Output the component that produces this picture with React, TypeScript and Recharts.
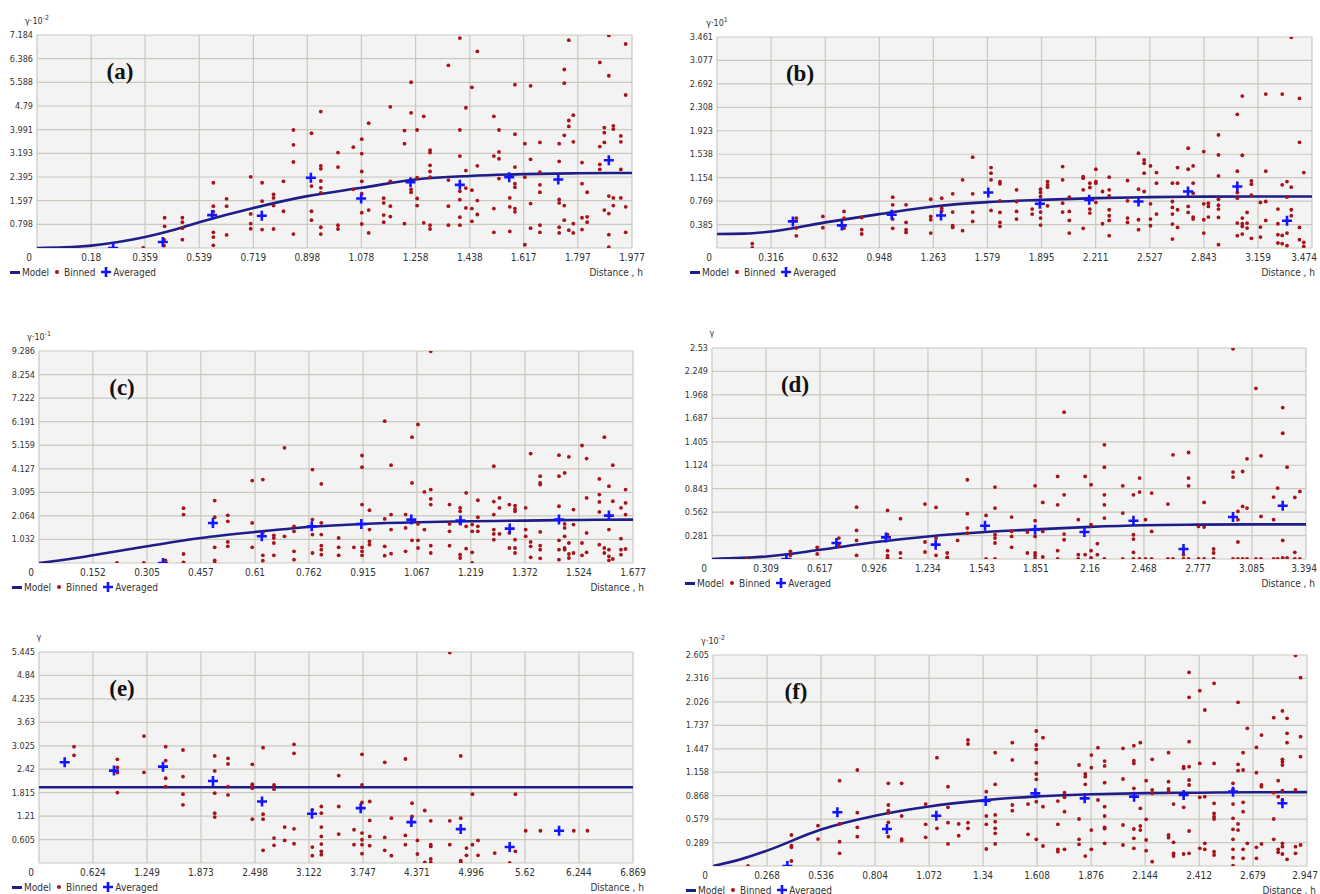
import React from "react";
import {
  ComposedChart,
  Scatter,
  Line,
  XAxis,
  YAxis,
  CartesianGrid,
} from "recharts";

// ---- (a) ----
const xTicksA = [0, 0.18, 0.359, 0.539, 0.719, 0.898, 1.078, 1.258, 1.438, 1.617, 1.797, 1.977];
const yTicksA = [0, 0.798, 1.597, 2.395, 3.193, 3.991, 4.79, 5.588, 6.386, 7.184];
const modelA = [[0, 0], [0.09, 0.02], [0.18, 0.08], [0.27, 0.2], [0.359, 0.37], [0.45, 0.6], [0.539, 0.87], [0.719, 1.35], [0.898, 1.75], [1.078, 2.03], [1.258, 2.31], [1.438, 2.43], [1.617, 2.49], [1.797, 2.52], [1.977, 2.53]];
const averagedA = [[0.253, 0], [0.418, 0.2], [0.582, 1.11], [0.747, 1.09], [0.91, 2.37], [1.077, 1.67], [1.241, 2.22], [1.405, 2.13], [1.569, 2.39], [1.732, 2.31], [1.9, 2.96]];
const binnedA = [
  [0.353, 0], [0.422, 0.08], [0.422, 0.28], [0.424, 0.73], [0.424, 1.02], [0.483, 1.02], [0.483, 0.87], [0.483, 0.67], [0.483, 0.28],
  [0.586, 2.2], [0.586, 1.41], [0.586, 1.23], [0.586, 0.53], [0.586, 0.37], [0.586, 0.09], [0.63, 1.66], [0.63, 1.41], [0.63, 0.44],
  [0.71, 2.4], [0.71, 1.15], [0.71, 0.82], [0.71, 0.65], [0.748, 2.2], [0.748, 1.58], [0.748, 0.62], [0.786, 1.81], [0.786, 1.69],
  [0.786, 1.43], [0.786, 0.64], [0.819, 2.25], [0.819, 1.24], [0.852, 3.98], [0.852, 3.48], [0.852, 2.9], [0.852, 0.47],
  [0.912, 3.87], [0.912, 2.09], [0.912, 1.24], [0.912, 0.94], [0.943, 4.6], [0.943, 2.77], [0.943, 2.67], [0.943, 2.26],
  [0.943, 2.03], [0.943, 1.86], [0.943, 0.7], [0.943, 0.47],
  [1.0, 3.22], [1.0, 2.73], [1.0, 0.77], [1.0, 0.64], [1.051, 3.4], [1.051, 1.98], [1.079, 3.67], [1.079, 3.18], [1.079, 2.58],
  [1.079, 2.25], [1.079, 1.83], [1.079, 1.19], [1.079, 0.81], [1.102, 4.21], [1.102, 1.28], [1.102, 0.51], [1.152, 1.68],
  [1.152, 1.52], [1.152, 1.11], [1.152, 0.87], [1.174, 4.76], [1.174, 2.25], [1.174, 1.41], [1.174, 1.06], [1.221, 3.96],
  [1.221, 3.52], [1.221, 0.82], [1.243, 5.59], [1.243, 4.56], [1.243, 1.98], [1.243, 1.88], [1.263, 3.98], [1.263, 2.37],
  [1.263, 1.67], [1.263, 1.43], [1.285, 4.44], [1.285, 0.85], [1.306, 3.3], [1.306, 3.22], [1.306, 2.79], [1.306, 2.58],
  [1.306, 2.39], [1.306, 0.77], [1.306, 0.64], [1.367, 6.16], [1.367, 2.29], [1.367, 1.41], [1.367, 0.77], [1.405, 7.08],
  [1.405, 3.98], [1.405, 3.1], [1.405, 1.91], [1.405, 1.63], [1.405, 1.04], [1.405, 0.77], [1.425, 4.73], [1.425, 2.61],
  [1.425, 2.02], [1.425, 1.35], [1.445, 5.42], [1.445, 1.95], [1.445, 1.33], [1.445, 0.9], [1.463, 6.63], [1.463, 2.77],
  [1.463, 1.6], [1.463, 1.13], [1.518, 4.44], [1.518, 3.1], [1.518, 1.33], [1.518, 0.53], [1.535, 3.98], [1.535, 3.24],
  [1.535, 3.01], [1.535, 2.34], [1.571, 1.69], [1.571, 1.39], [1.571, 0.56], [1.588, 5.51], [1.588, 3.84], [1.588, 2.73],
  [1.588, 2.17], [1.588, 2.05], [1.588, 1.33], [1.588, 1.22], [1.621, 3.52], [1.621, 2.39], [1.621, 0.11], [1.64, 5.47],
  [1.64, 2.99], [1.64, 1.5], [1.64, 0.67], [1.671, 3.56], [1.671, 2.56], [1.671, 2.13], [1.671, 1.88], [1.671, 0.77],
  [1.671, 0.53], [1.735, 3.52], [1.735, 2.92], [1.735, 1.64], [1.735, 1.52], [1.735, 0.7], [1.735, 0.51], [1.752, 6.02],
  [1.752, 5.56], [1.752, 3.8], [1.752, 1.43], [1.752, 0.94], [1.767, 7.01], [1.767, 4.3], [1.767, 4.1], [1.767, 0.6],
  [1.782, 4.48], [1.782, 3.58], [1.782, 0.82], [1.782, 0.51], [1.811, 2.88], [1.811, 2.17], [1.811, 1.02], [1.811, 0.62],
  [1.828, 1.88], [1.828, 1.05], [1.828, 0.87], [1.87, 6.26], [1.87, 3.42], [1.87, 2.82], [1.87, 2.65], [1.885, 4.06],
  [1.885, 3.89], [1.885, 3.56], [1.885, 1.28], [1.9, 7.17], [1.9, 5.81], [1.9, 1.75], [1.9, 1.16], [1.9, 0.45], [1.9, 0.03],
  [1.915, 4.12], [1.915, 4.01], [1.915, 1.69], [1.915, 1.43], [1.94, 3.78], [1.94, 3.58], [1.94, 2.65], [1.94, 1.69],
  [1.956, 6.88], [1.956, 5.16], [1.956, 1.39], [1.956, 0.53],
];

// ---- (b) ----
const xTicksB = [0, 0.316, 0.632, 0.948, 1.263, 1.579, 1.895, 2.211, 2.527, 2.843, 3.159, 3.474];
const yTicksB = [0, 0.385, 0.769, 1.154, 1.538, 1.923, 2.308, 2.692, 3.077, 3.461];
const modelB = [[0, 0.23], [0.158, 0.235], [0.316, 0.27], [0.632, 0.42], [0.948, 0.556], [1.263, 0.68], [1.579, 0.752], [1.895, 0.79], [2.211, 0.818], [2.527, 0.834], [2.843, 0.842], [3.159, 0.845], [3.474, 0.845]];
const averagedB = [[0.443, 0.436], [0.729, 0.371], [1.02, 0.545], [1.308, 0.534], [1.584, 0.91], [1.885, 0.725], [2.173, 0.79], [2.461, 0.763], [2.75, 0.927], [3.038, 1.009], [3.328, 0.447]];
const binnedB = [
  [0.206, 0.071], [0.206, 0.0], [0.463, 0.49], [0.463, 0.327], [0.463, 0.2], [0.618, 0.518], [0.618, 0.333], [0.742, 0.6],
  [0.742, 0.49], [0.742, 0.327], [0.845, 0.5], [0.845, 0.3], [0.845, 0.23], [1.026, 0.834], [1.026, 0.709], [1.026, 0.589],
  [1.026, 0.474], [1.026, 0.322], [1.104, 0.709], [1.104, 0.42], [1.104, 0.3], [1.104, 0.256], [1.248, 0.8], [1.248, 0.518],
  [1.248, 0.463], [1.248, 0.245], [1.312, 0.818], [1.312, 0.654], [1.312, 0.605], [1.376, 0.889], [1.376, 0.589],
  [1.376, 0.365], [1.376, 0.338], [1.434, 1.118], [1.434, 0.284], [1.493, 1.489], [1.493, 0.889], [1.493, 0.589],
  [1.493, 0.436], [1.6, 1.32], [1.6, 1.227], [1.6, 1.118], [1.6, 0.616], [1.652, 1.09], [1.652, 1.052], [1.652, 0.774],
  [1.652, 0.583], [1.652, 0.42], [1.652, 0.354], [1.749, 0.954], [1.749, 0.763], [1.749, 0.6], [1.749, 0.474], [1.84, 0.638],
  [1.84, 0.556], [1.889, 0.965], [1.889, 0.91], [1.889, 0.845], [1.889, 0.589], [1.889, 0.491], [1.889, 0.376], [1.93, 1.09],
  [1.93, 1.036], [1.93, 0.998], [1.93, 0.692], [2.018, 1.336], [2.018, 1.118], [2.018, 0.736], [2.018, 0.589], [2.057, 0.834],
  [2.057, 0.6], [2.057, 0.453], [2.057, 0.245], [2.138, 1.172], [2.138, 1.145], [2.138, 0.954], [2.138, 0.322],
  [2.177, 1.063], [2.177, 0.992], [2.177, 0.638], [2.177, 0.573], [2.212, 1.292], [2.212, 1.09], [2.212, 1.063],
  [2.212, 0.747], [2.251, 0.927], [2.251, 0.398], [2.29, 1.161], [2.29, 0.954], [2.29, 0.856], [2.29, 0.627], [2.29, 0.529],
  [2.29, 0.453], [2.29, 0.202], [2.397, 1.107], [2.397, 0.774], [2.397, 0.491], [2.397, 0.42], [2.461, 1.554], [2.461, 0.965],
  [2.461, 0.463], [2.461, 0.3], [2.494, 1.445], [2.494, 1.39], [2.494, 1.227], [2.494, 0.927], [2.531, 1.347], [2.531, 0.725],
  [2.531, 0.474], [2.531, 0.365], [2.566, 1.238], [2.566, 1.063], [2.566, 0.556], [2.659, 1.063], [2.659, 0.763],
  [2.659, 0.665], [2.659, 0.556], [2.659, 0.393], [2.659, 0.147], [2.689, 1.32], [2.689, 1.063], [2.689, 0.627],
  [2.689, 0.338], [2.751, 1.636], [2.751, 1.292], [2.751, 0.682], [2.751, 0.583], [2.78, 1.347], [2.78, 1.063], [2.78, 0.9],
  [2.78, 0.507], [2.78, 0.474], [2.842, 1.581], [2.842, 0.725], [2.842, 0.463], [2.842, 0.245], [2.869, 0.736], [2.869, 0.682],
  [2.869, 0.507], [2.928, 1.854], [2.928, 1.527], [2.928, 1.183], [2.928, 0.8], [2.928, 0.703], [2.928, 0.638], [2.928, 0.502],
  [2.928, 0.055], [3.038, 2.192], [3.038, 1.26], [3.038, 0.91], [3.038, 0.818], [3.038, 0.409], [3.038, 0.202],
  [3.067, 2.492], [3.067, 1.521], [3.067, 0.491], [3.067, 0.398], [3.067, 0.354], [3.067, 0.229], [3.095, 0.583],
  [3.095, 0.409], [3.095, 0.327], [3.12, 1.101], [3.12, 1.047], [3.12, 0.867], [3.12, 0.158], [3.173, 0.747], [3.173, 0.344],
  [3.173, 0.18], [3.204, 2.524], [3.204, 1.26], [3.204, 0.763], [3.204, 0.453], [3.275, 0.638], [3.275, 0.398],
  [3.275, 0.218], [3.275, 0.082], [3.3, 2.524], [3.3, 1.036], [3.3, 0.207], [3.3, 0.071], [3.328, 1.09], [3.328, 0.834],
  [3.328, 0.245], [3.328, 0.038], [3.353, 3.455], [3.353, 0.998], [3.353, 0.627], [3.353, 0.529], [3.401, 2.454],
  [3.401, 1.734], [3.401, 0.338], [3.401, 0.136], [3.426, 1.238], [3.426, 0.093], [3.426, 0.027],
];

// ---- (c) ----
const xTicksC = [0, 0.152, 0.305, 0.457, 0.61, 0.762, 0.915, 1.067, 1.219, 1.372, 1.524, 1.677];
const yTicksC = [0, 1.032, 2.064, 3.095, 4.127, 5.159, 6.191, 7.222, 8.254, 9.286];
const modelC = [[0, 0], [0.076, 0.15], [0.152, 0.336], [0.305, 0.731], [0.457, 1.096], [0.61, 1.36], [0.762, 1.579], [0.915, 1.71], [1.067, 1.784], [1.219, 1.827], [1.372, 1.857], [1.524, 1.886], [1.677, 1.9]];
const averagedC = [[0.35, 0], [0.491, 1.754], [0.629, 1.17], [0.77, 1.608], [0.91, 1.71], [1.051, 1.9], [1.19, 1.857], [1.329, 1.506], [1.468, 1.9], [1.609, 2.076]];
const binnedC = [
  [0.22, 0], [0.296, 0], [0.357, 0.117], [0.408, 2.4], [0.408, 2.12], [0.408, 0.395], [0.408, 0.03], [0.496, 2.734],
  [0.496, 2.003], [0.496, 0.687], [0.496, 0.117], [0.496, 0], [0.533, 2.09], [0.533, 1.827], [0.533, 0.921], [0.533, 0.731],
  [0.602, 3.611], [0.602, 1.754], [0.602, 0.687], [0.632, 3.655], [0.632, 1.316], [0.632, 0.336], [0.632, 0.102],
  [0.663, 1.213], [0.663, 1.096], [0.663, 0.877], [0.663, 0.336], [0.693, 5.044], [0.693, 1.17], [0.72, 1.608], [0.72, 1.389],
  [0.72, 0.512], [0.72, 0.146], [0.772, 4.094], [0.772, 1.9], [0.772, 1.243], [0.772, 0.439], [0.797, 3.465], [0.797, 1.754],
  [0.797, 1.243], [0.797, 0.76], [0.797, 0.585], [0.797, 0.365], [0.846, 1.096], [0.846, 0.687], [0.846, 0.336],
  [0.889, 0.687], [0.912, 4.708], [0.912, 4.196], [0.912, 2.558], [0.912, 0.687], [0.912, 0.512], [0.912, 0.336],
  [0.933, 2.31], [0.933, 1.462], [0.933, 0.95], [0.933, 0.804], [0.976, 6.213], [0.976, 1.93], [0.976, 0.731], [0.976, 0.322],
  [0.994, 4.284], [0.994, 2.12], [0.994, 1.462], [0.994, 0.409], [1.035, 2.12], [1.035, 1.535], [1.035, 0.512],
  [1.053, 5.512], [1.053, 3.509], [1.053, 0.994], [1.07, 6.067], [1.07, 1.71], [1.07, 0.994], [1.07, 0.658], [1.088, 3.114],
  [1.088, 1.462], [1.106, 9.27], [1.106, 3.216], [1.106, 2.807], [1.106, 2.558], [1.106, 0.76], [1.106, 0.439],
  [1.159, 2.558], [1.159, 1.71], [1.159, 1.389], [1.159, 0.76], [1.189, 2.412], [1.189, 2.266], [1.189, 1.754],
  [1.189, 0.365], [1.189, 0.219], [1.206, 3.07], [1.206, 1.608], [1.206, 0.629], [1.223, 1.681], [1.223, 1.389],
  [1.223, 0.468], [1.223, 0], [1.239, 2.749], [1.239, 2.003], [1.239, 1.608], [1.239, 1.389], [1.284, 4.24], [1.284, 2.69],
  [1.284, 2.12], [1.284, 1.462], [1.284, 1.272], [1.284, 1.023], [1.3, 2.851], [1.3, 2.412], [1.3, 1.272], [1.328, 2.558],
  [1.328, 1.316], [1.328, 0.658], [1.344, 2.515], [1.344, 2.368], [1.344, 2.266], [1.344, 1.023], [1.344, 0.658],
  [1.344, 0.439], [1.374, 2.412], [1.374, 1.462], [1.374, 1.17], [1.388, 4.795], [1.388, 0.921], [1.388, 0.731],
  [1.388, 0.249], [1.415, 3.801], [1.415, 3.509], [1.415, 3.436], [1.415, 1.36], [1.415, 0.76], [1.415, 0.585],
  [1.415, 0.205], [1.468, 4.722], [1.468, 3.801], [1.468, 2.485], [1.468, 0.994], [1.468, 0.585], [1.468, 0.146],
  [1.484, 3.947], [1.484, 1.71], [1.484, 1.535], [1.484, 1.17], [1.484, 0.658], [1.484, 0.585], [1.496, 4.649],
  [1.496, 0.877], [1.496, 0.395], [1.496, 0.219], [1.509, 2.339], [1.509, 1.681], [1.509, 0.439], [1.533, 5.146],
  [1.533, 0.877], [1.533, 0.336], [1.546, 4.576], [1.546, 2.851], [1.546, 1.316], [1.546, 0.468], [1.582, 3.684],
  [1.582, 2.997], [1.582, 2.675], [1.582, 2.237], [1.582, 0.804], [1.596, 5.512], [1.596, 0.658], [1.596, 0.439],
  [1.609, 3.363], [1.609, 1.462], [1.609, 0.585], [1.609, 0.292], [1.609, 0.117], [1.62, 4.284], [1.62, 2.705],
  [1.62, 0.175], [1.643, 2.412], [1.643, 1.067], [1.643, 0.585], [1.643, 0.365], [1.656, 3.216], [1.656, 2.632],
  [1.656, 2.12], [1.656, 0.614],
];

// ---- (d) ----
const xTicksD = [0, 0.309, 0.617, 0.926, 1.234, 1.543, 1.851, 2.16, 2.468, 2.777, 3.085, 3.394];
const yTicksD = [0, 0.281, 0.562, 0.843, 1.124, 1.405, 1.687, 1.968, 2.249, 2.53];
const modelD = [[0, 0], [0.309, 0.03], [0.617, 0.11], [0.926, 0.2], [1.234, 0.27], [1.543, 0.32], [1.851, 0.355], [2.16, 0.385], [2.468, 0.405], [2.777, 0.412], [3.085, 0.415], [3.394, 0.415]];
const averagedD = [[0.425, 0], [0.711, 0.192], [0.994, 0.259], [1.278, 0.172], [1.56, 0.399], [1.846, 0.351], [2.128, 0.323], [2.408, 0.459], [2.694, 0.12], [2.977, 0.503], [3.261, 0.638]];
const binnedD = [
  [0.2, 0], [0.448, 0.092], [0.448, 0.044], [0.601, 0.14], [0.601, 0.06], [0.725, 0.251], [0.725, 0.16], [0.826, 0.622],
  [0.826, 0.343], [0.826, 0.223], [0.826, 0.044], [1.003, 0.583], [1.003, 0.291], [1.003, 0.1], [1.003, 0.04],
  [1.003, 0.012], [1.003, 0], [1.077, 0.483], [1.077, 0.072], [1.077, 0], [1.217, 0.658], [1.217, 0.204], [1.217, 0.084],
  [1.28, 0.619], [1.28, 0.251], [1.28, 0.044], [1.344, 0.072], [1.344, 0.02], [1.344, 0], [1.403, 0.223], [1.459, 0.95],
  [1.459, 0.543], [1.459, 0.371], [1.459, 0.311], [1.566, 0.523], [1.566, 0], [1.617, 0.862], [1.617, 0.611],
  [1.617, 0.291], [1.617, 0.251], [1.617, 0.192], [1.617, 0], [1.712, 0.503], [1.712, 0.331], [1.712, 0.271],
  [1.712, 0.14], [1.802, 0.072], [1.802, 0.323], [1.846, 0.878], [1.846, 0.459], [1.846, 0.271], [1.846, 0.072],
  [1.846, 0.04], [1.846, 0], [1.89, 0.678], [1.89, 0.331], [1.89, 0.024], [1.975, 0.99], [1.975, 0.65], [1.975, 0.1],
  [1.975, 0], [2.012, 1.76], [2.012, 0.77], [2.012, 0.299], [2.012, 0.231], [2.093, 0.471], [2.093, 0.052], [2.093, 0],
  [2.132, 0.99], [2.132, 0.052], [2.166, 0.89], [2.166, 0.411], [2.166, 0.1], [2.166, 0.012], [2.202, 0.184],
  [2.202, 0.052], [2.242, 1.369], [2.242, 1.101], [2.242, 0.77], [2.242, 0.65], [2.242, 0.491], [2.242, 0], [2.347, 0.878],
  [2.347, 0.551], [2.347, 0], [2.408, 0.77], [2.408, 0.291], [2.408, 0.239], [2.408, 0.08], [2.408, 0], [2.443, 0.97],
  [2.443, 0.802], [2.443, 0], [2.477, 0.471], [2.477, 0], [2.512, 0.79], [2.512, 0.331], [2.512, 0], [2.605, 0.658],
  [2.605, 0], [2.634, 1.249], [2.634, 0], [2.694, 0.052], [2.694, 0], [2.723, 1.277], [2.723, 0.97], [2.723, 0.878],
  [2.723, 0], [2.78, 0.391], [2.78, 0], [2.812, 0.678], [2.812, 0.383], [2.812, 0], [2.866, 0.12], [2.866, 0.072],
  [2.866, 0], [2.977, 2.52], [2.977, 1.042], [2.977, 0.982], [2.977, 0], [3.005, 0.571], [3.005, 0.471], [3.005, 0.204],
  [3.005, 0], [3.032, 1.049], [3.032, 0.63], [3.032, 0], [3.057, 1.201], [3.057, 0.611], [3.057, 0], [3.108, 2.047],
  [3.108, 0], [3.137, 1.237], [3.137, 0.511], [3.137, 0], [3.209, 0.742], [3.209, 0.471], [3.209, 0], [3.232, 0.85],
  [3.232, 0], [3.261, 1.816], [3.261, 1.508], [3.261, 0.223], [3.261, 0.012], [3.286, 1.101], [3.286, 0.012],
  [3.33, 0.738], [3.33, 0.08], [3.33, 0], [3.359, 0.81], [3.359, 0],
];

// ---- (e) ----
const xTicksE = [0, 0.624, 1.249, 1.873, 2.498, 3.122, 3.747, 4.371, 4.996, 5.62, 6.244, 6.869];
const yTicksE = [0, 0.605, 1.21, 1.815, 2.42, 3.025, 3.63, 4.235, 4.84, 5.445];
const modelE = [[0, 1.955], [1.249, 1.955], [2.498, 1.955], [3.747, 1.955], [4.996, 1.955], [6.244, 1.955], [6.869, 1.955]];
const averagedE = [[0.297, 2.599], [0.867, 2.384], [1.434, 2.487], [2.012, 2.118], [2.579, 1.587], [3.157, 1.269], [3.72, 1.415], [4.306, 1.055], [4.877, 0.875], [5.443, 0.412], [6.014, 0.832]];
const binnedE = [
  [0.405, 3.002], [0.405, 2.779], [0.906, 2.676], [0.906, 2.47], [0.906, 2.333], [0.906, 1.818], [1.214, 3.276],
  [1.214, 2.341], [1.465, 3.002], [1.465, 2.642], [1.465, 2.187], [1.465, 1.973], [1.665, 2.916], [1.665, 2.23],
  [1.665, 1.775], [1.665, 1.501], [2.032, 2.762], [2.032, 2.376], [2.032, 1.801], [2.032, 1.286], [2.032, 1.184],
  [2.186, 2.702], [2.186, 2.556], [2.186, 1.973], [2.186, 1.758], [2.467, 2.547], [2.467, 2.033], [2.467, 1.99],
  [2.467, 1.93], [2.467, 1.132], [2.591, 2.976], [2.591, 1.261], [2.591, 1.132], [2.591, 0.326], [2.718, 2.015],
  [2.718, 1.904], [2.718, 0.643], [2.718, 0.455], [2.841, 0.926], [2.841, 0.583], [2.949, 3.062], [2.949, 2.83],
  [2.949, 0.883], [2.949, 0.497], [3.161, 1.372], [3.161, 0.412], [3.161, 0.189], [3.265, 1.458], [3.265, 1.286],
  [3.265, 0.926], [3.265, 0.686], [3.265, 0.489], [3.265, 0.3], [3.265, 0.214], [3.466, 2.256], [3.466, 1.458],
  [3.466, 0.746], [3.643, 0.858], [3.643, 0.472], [3.735, 2.804], [3.735, 2.015], [3.735, 1.561], [3.735, 0.772],
  [3.735, 0.6], [3.735, 0.472], [3.735, 0.24], [3.824, 1.587], [3.824, 1.098], [3.824, 0.686], [3.824, 0.446],
  [3.998, 2.599], [3.998, 0.66], [3.998, 0.326], [4.075, 1.158], [4.075, 0.189], [4.237, 2.684], [4.237, 0.712],
  [4.237, 0.472], [4.314, 1.544], [4.314, 1.201], [4.376, 0.583], [4.376, 0.232], [4.461, 1.355], [4.461, 0.017],
  [4.53, 1.089], [4.53, 0.472], [4.53, 0.429], [4.53, 0.103], [4.53, 0.017], [4.75, 5.43], [4.75, 1.089], [4.75, 0.472],
  [4.877, 2.762], [4.877, 1.158], [4.877, 0.06], [4.877, 0.017], [4.943, 0.386], [4.943, 0.197], [5.012, 1.775],
  [5.012, 0.472], [5.077, 0.583], [5.077, 0.197], [5.27, 0.257], [5.443, 0], [5.509, 1.775], [5.509, 0.3], [5.628, 0.832],
  [5.798, 0.832], [6.184, 0.832], [6.342, 0.832],
];

// ---- (f) ----
const xTicksF = [0, 0.268, 0.536, 0.804, 1.072, 1.34, 1.608, 1.876, 2.144, 2.412, 2.679, 2.947];
const yTicksF = [0, 0.289, 0.579, 0.868, 1.158, 1.447, 1.737, 2.026, 2.316, 2.605];
const modelF = [[0, 0], [0.134, 0.08], [0.268, 0.19], [0.536, 0.45], [0.804, 0.62], [1.072, 0.735], [1.34, 0.81], [1.608, 0.86], [1.876, 0.885], [2.144, 0.9], [2.412, 0.905], [2.679, 0.91], [2.947, 0.912]];
const averagedF = [[0.369, 0], [0.617, 0.663], [0.863, 0.457], [1.108, 0.621], [1.353, 0.802], [1.599, 0.897], [1.844, 0.835], [2.089, 0.856], [2.335, 0.877], [2.58, 0.918], [2.825, 0.774]];
const binnedF = [
  [0.174, 0], [0.389, 0.383], [0.389, 0.251], [0.389, 0.23], [0.389, 0.062], [0.521, 0.498], [0.521, 0.333], [0.628, 1.053],
  [0.628, 0.519], [0.628, 0.3], [0.628, 0.156], [0.716, 1.185], [0.716, 0.658], [0.716, 0.477], [0.716, 0.362],
  [0.87, 1.021], [0.87, 0.753], [0.87, 0.683], [0.87, 0.658], [0.87, 0.539], [0.87, 0.362], [0.936, 1.021], [0.936, 0.617],
  [0.936, 0.333], [0.936, 0.313], [1.055, 0.765], [1.055, 0.514], [1.055, 0.354], [1.111, 1.337], [1.111, 0.465],
  [1.166, 0.979], [1.166, 0.724], [1.166, 0.535], [1.166, 0.272], [1.219, 0.519], [1.219, 0.374], [1.265, 1.556],
  [1.265, 1.506], [1.265, 0.535], [1.265, 0.465], [1.356, 0.918], [1.356, 0.617], [1.356, 0.514], [1.356, 0.21],
  [1.4, 1.399], [1.4, 1.008], [1.4, 0.63], [1.4, 0.547], [1.4, 0.465], [1.4, 0.403], [1.4, 0.272], [1.485, 1.523],
  [1.485, 1.309], [1.485, 0.753], [1.485, 0.683], [1.563, 0.765], [1.563, 0.391], [1.604, 1.667], [1.604, 1.494],
  [1.604, 1.44], [1.604, 1.276], [1.604, 1.136], [1.604, 1.07], [1.604, 0.794], [1.604, 0.329], [1.637, 1.584],
  [1.637, 0.733], [1.637, 0.247], [1.711, 0.802], [1.711, 0.514], [1.711, 0.206], [1.711, 0.177], [1.744, 0.905],
  [1.744, 0.848], [1.744, 0.671], [1.744, 0.206], [1.816, 1.247], [1.816, 0.58], [1.816, 0.329], [1.816, 0.267],
  [1.847, 1.136], [1.847, 1.103], [1.847, 1.008], [1.847, 0.123], [1.877, 1.37], [1.877, 1.214], [1.877, 0.444],
  [1.877, 0.206], [1.91, 1.461], [1.91, 0.815], [1.943, 1.296], [1.943, 1.235], [1.943, 1.029], [1.943, 0.733],
  [1.943, 0.617], [1.943, 0.477], [1.943, 0.461], [1.943, 0.28], [2.034, 1.453], [2.034, 1.074], [2.034, 0.506],
  [2.034, 0.259], [2.088, 1.486], [2.088, 1.3], [2.088, 1.267], [2.088, 0.959], [2.088, 0.457], [2.088, 0.342],
  [2.088, 0.218], [2.12, 1.523], [2.12, 0.712], [2.12, 0.494], [2.12, 0.444], [2.149, 1.053], [2.149, 0.576],
  [2.149, 0.321], [2.149, 0.189], [2.179, 1.317], [2.179, 0.938], [2.179, 0.897], [2.179, 0.053], [2.26, 1.399],
  [2.26, 1.041], [2.26, 0.951], [2.26, 0.918], [2.26, 0.383], [2.26, 0.35], [2.285, 0.765], [2.285, 0.292],
  [2.285, 0.156], [2.285, 0.123], [2.335, 1.226], [2.335, 1.206], [2.335, 0.724], [2.335, 0.148], [2.362, 2.391],
  [2.362, 2.082], [2.362, 1.535], [2.362, 1.226], [2.362, 1.062], [2.362, 1.0], [2.362, 0.432], [2.362, 0.156],
  [2.415, 2.165], [2.415, 1.267], [2.415, 0.848], [2.415, 0.218], [2.44, 1.926], [2.44, 0.856], [2.44, 0.28],
  [2.44, 0.206], [2.486, 2.255], [2.486, 1.267], [2.486, 0.774], [2.486, 0.65], [2.486, 0.609], [2.486, 0.58],
  [2.486, 0.177], [2.486, 0.136], [2.58, 1.021], [2.58, 0.947], [2.58, 0.765], [2.58, 0.588], [2.58, 0.453],
  [2.58, 0.329], [2.58, 0.206], [2.58, 0.103], [2.58, 0.004], [2.605, 2.021], [2.605, 1.255], [2.605, 1.177],
  [2.605, 0.519], [2.605, 0.444], [2.63, 1.399], [2.63, 1.185], [2.63, 0.786], [2.63, 0.671], [2.63, 0.206],
  [2.63, 0.095], [2.651, 1.7], [2.651, 0.28], [2.696, 1.465], [2.696, 1.152], [2.696, 0.23], [2.696, 0.095],
  [2.721, 1.617], [2.721, 1.0], [2.721, 0.979], [2.721, 0.272], [2.782, 1.831], [2.782, 0.905], [2.782, 0.58],
  [2.782, 0.329], [2.804, 1.053], [2.804, 0.856], [2.804, 0.206], [2.804, 0.169], [2.825, 1.914], [2.825, 1.317],
  [2.825, 1.288], [2.825, 1.247], [2.825, 0.93], [2.825, 0.815], [2.825, 0.28], [2.825, 0.239], [2.825, 0.148],
  [2.848, 1.823], [2.848, 1.638], [2.848, 1.523], [2.848, 0.082], [2.89, 2.6], [2.89, 0.938], [2.89, 0.239],
  [2.89, 0.156], [2.915, 2.325], [2.915, 1.597], [2.915, 1.35], [2.915, 0.259],
];

/* ------------------------------------------------------------------ */

const NARROW = "'Liberation Sans Narrow', 'DejaVu Sans Condensed', 'Arial Narrow', sans-serif";
const MODEL_COLOR = "#1e1e88";
const BINNED_COLOR = "#a8121a";
const AVERAGED_COLOR = "#1414ff";

const toPoints = (rows: number[][]) => rows.map(([x, y]) => ({ x, y }));

function BinnedDot(props: any) {
  const { cx, cy } = props;
  if (cx == null || cy == null) return null;
  return <circle cx={cx} cy={cy} r={1.9} fill={BINNED_COLOR} />;
}

function AveragedPlus(props: any) {
  const { cx, cy } = props;
  if (cx == null || cy == null) return null;
  return (
    <path
      d={`M${cx - 5},${cy}h10M${cx},${cy - 5}v10`}
      stroke={AVERAGED_COLOR}
      strokeWidth={2.6}
      fill="none"
    />
  );
}

function XTick({ x, y, payload, lastValue, pullIn }: any) {
  const isZero = payload.value === 0;
  let tx = x;
  if (isZero) tx = x - 8;
  if (payload.value === lastValue) tx = x - (pullIn || 0);
  return (
    <text x={tx} y={y + 13} textAnchor="middle" fontSize={10} fontFamily={NARROW} fill="#333">
      {payload.value}
    </text>
  );
}

function YTick({ x, y, payload }: any) {
  if (payload.value === 0) return <g />;
  return (
    <text x={x} y={y + 3} textAnchor="end" fontSize={9} fontFamily={NARROW} fill="#333">
      {payload.value}
    </text>
  );
}

type PanelProps = {
  label: string;
  unitExp?: string;
  binned: number[][];
  averaged: number[][];
  model: number[][];
  xTicks: number[];
  yTicks: number[];
  left: number;
  top: number;
  width: number;
  height: number;
  pullIn?: number;
};

const PAD_L = 40;
const PAD_T = 30;
const PAD_R = 20;
const PAD_B = 24;

function Panel({ label, unitExp, binned, averaged, model, xTicks, yTicks, left, top, width, height, pullIn = 0 }: PanelProps) {
  const xMax = xTicks[xTicks.length - 1];
  const yMax = yTicks[yTicks.length - 1];
  const legendY = PAD_T + height + 24;
  return (
    <div
      style={{
        position: "absolute",
        left: left - PAD_L,
        top: top - PAD_T,
        width: width + PAD_L + PAD_R,
        height: height + PAD_T + PAD_B + 20,
      }}
    >
      <ComposedChart
        width={width + PAD_L + PAD_R}
        height={height + PAD_T + PAD_B}
        margin={{ top: PAD_T, right: PAD_R, left: 0, bottom: 0 }}
      >
        <CartesianGrid stroke="#c9c9bf" strokeWidth={1.2} fill="#f3f3f3" />
        <XAxis
          type="number"
          dataKey="x"
          domain={[0, xMax]}
          ticks={xTicks}
          interval={0}
          axisLine={false}
          tickLine={false}
          tickSize={0}
          tickMargin={0}
          height={PAD_B}
          tick={<XTick lastValue={xMax} pullIn={pullIn} />}
          allowDataOverflow
        />
        <YAxis
          type="number"
          dataKey="y"
          domain={[0, yMax]}
          ticks={yTicks}
          interval={0}
          axisLine={false}
          tickLine={false}
          tickSize={0}
          tickMargin={4}
          width={PAD_L}
          tick={<YTick />}
          allowDataOverflow
        />
        <Scatter data={toPoints(binned)} shape={<BinnedDot />} isAnimationActive={false} />
        <Line
          data={toPoints(model)}
          dataKey="y"
          type="monotone"
          stroke={MODEL_COLOR}
          strokeWidth={2.6}
          dot={false}
          activeDot={false}
          isAnimationActive={false}
        />
        <Scatter data={toPoints(averaged)} shape={<AveragedPlus />} isAnimationActive={false} />
      </ComposedChart>

      {/* panel label */}
      <div
        style={{
          position: "absolute",
          left: PAD_L + 83,
          top: PAD_T + 37,
          transform: "translate(-50%, -50%)",
          fontFamily: "'Liberation Serif', 'Times New Roman', serif",
          fontWeight: "bold",
          fontSize: 23,
          color: "#111",
        }}
      >
        {label}
      </div>

      {/* semivariance unit */}
      <div
        style={{
          position: "absolute",
          left: PAD_L,
          top: PAD_T - 15,
          transform: "translate(-50%, -50%)",
          fontFamily: NARROW,
          fontSize: 9,
          color: "#333",
          whiteSpace: "nowrap",
        }}
      >
        γ{unitExp ? "·10" : ""}
        {unitExp ? <sup style={{ fontSize: 7 }}>{unitExp}</sup> : null}
      </div>

      {/* legend */}
      <div
        style={{
          position: "absolute",
          left: PAD_L - 27,
          top: legendY,
          transform: "translateY(-50%)",
          display: "flex",
          alignItems: "center",
          fontFamily: NARROW,
          fontSize: 10,
          color: "#333",
          whiteSpace: "nowrap",
        }}
      >
        <span style={{ display: "inline-block", width: 10, height: 3, background: MODEL_COLOR, marginRight: 2 }} />
        <span>Model</span>
        <span
          style={{ display: "inline-block", width: 4, height: 4, borderRadius: 2, background: BINNED_COLOR, margin: "0 5px 0 6px" }}
        />
        <span>Binned</span>
        <svg width={12} height={12} style={{ margin: "0 1px 0 5px" }}>
          <path d="M1,6h10M6,1v10" stroke={AVERAGED_COLOR} strokeWidth={2.6} />
        </svg>
        <span>Averaged</span>
      </div>

      {/* axis title */}
      <div
        style={{
          position: "absolute",
          right: PAD_R - 11 + pullIn,
          top: legendY,
          transform: "translateY(-50%)",
          fontFamily: NARROW,
          fontSize: 10,
          color: "#333",
          whiteSpace: "nowrap",
        }}
      >
        Distance , h
      </div>
    </div>
  );
}

export default function App() {
  return (
    <div
      style={{
        position: "absolute",
        left: 0,
        top: 0,
        width: 1320,
        height: 894,
        background: "#fff",
        overflow: "hidden",
      }}
    >
      <Panel label="(a)" unitExp="-2" binned={binnedA} averaged={averagedA} model={modelA}
        xTicks={xTicksA} yTicks={yTicksA} left={37} top={35} width={595} height={213} />
      <Panel label="(b)" unitExp="1" binned={binnedB} averaged={averagedB} model={modelB}
        xTicks={xTicksB} yTicks={yTicksB} left={717} top={37} width={595} height={211} pullIn={8} />
      <Panel label="(c)" unitExp="-1" binned={binnedC} averaged={averagedC} model={modelC}
        xTicks={xTicksC} yTicks={yTicksC} left={39} top={351} width={594} height={212} />
      <Panel label="(d)" binned={binnedD} averaged={averagedD} model={modelD}
        xTicks={xTicksD} yTicks={yTicksD} left={712} top={348} width={594} height={211} pullIn={2} />
      <Panel label="(e)" binned={binnedE} averaged={averagedE} model={modelE}
        xTicks={xTicksE} yTicks={yTicksE} left={39} top={652} width={594} height={211} />
      <Panel label="(f)" unitExp="-2" binned={binnedF} averaged={averagedF} model={modelF}
        xTicks={xTicksF} yTicks={yTicksF} left={713} top={655} width={594} height={211} pullIn={2} />
    </div>
  );
}
